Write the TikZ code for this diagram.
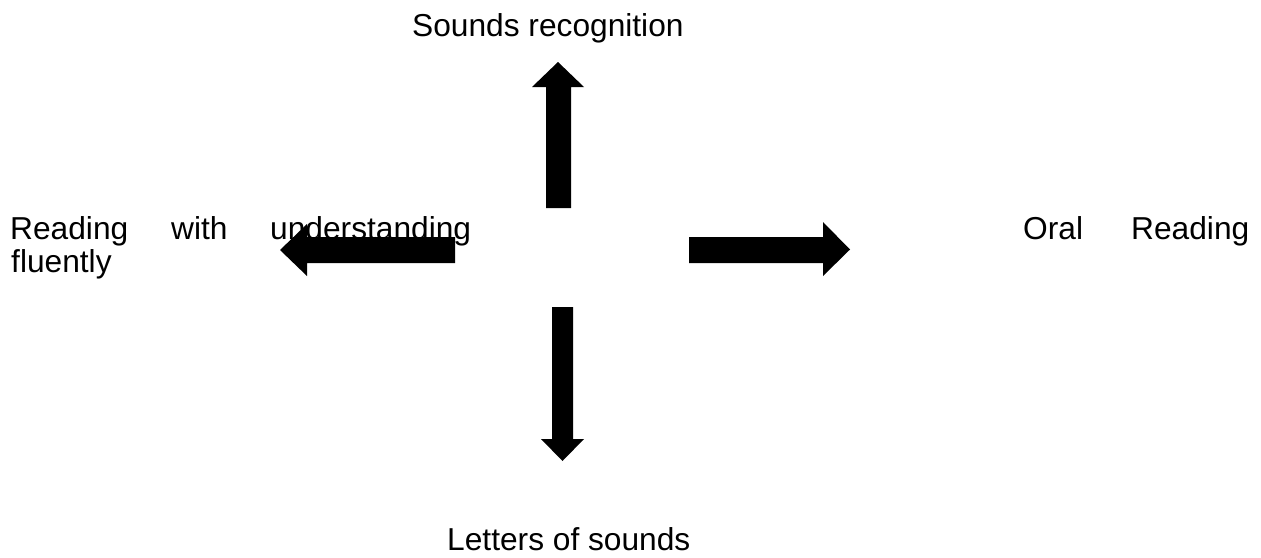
\documentclass[tikz,border=0pt]{standalone}
\usepackage{fontspec}
\setmainfont{Liberation Sans}
\begin{document}
\begin{tikzpicture}[x=1pt,y=-1pt,
  lbl/.style={anchor=base west,inner sep=0pt,font=\fontsize{31.7}{37}\selectfont},
  blockarrow/.style={fill=black,draw=none}]
\useasboundingbox (0,0) rectangle (1261,557);
% texts
\node[lbl] (top) at (412,36) {Sounds recognition};
\node[lbl] (bottom) at (447,550) {Letters of sounds};
\node[lbl] (l1) at (10,239) {Reading};
\node[lbl] (l2) at (171,239) {with};
\node[lbl] (l3) at (270,239) {understanding};
\node[lbl] (l4) at (11,272) {fluently};
\node[lbl] (r1) at (1023,239) {Oral};
\node[lbl] (r2) at (1131,239) {Reading};
% block arrows
\fill[blockarrow] (546,208) -- (546,87) -- (532,87) -- (558,62) -- (584,87) -- (571,87) -- (571,208) -- cycle;
\fill[blockarrow] (689,237) -- (823,237) -- (823,222) -- (850,249.5) -- (823,276) -- (823,263) -- (689,263) -- cycle;
\fill[blockarrow] (552,307) -- (573,307) -- (573,439) -- (584,439) -- (562.5,461) -- (541,439) -- (552,439) -- cycle;
\fill[blockarrow] (455,237) -- (307,237) -- (307,224) -- (280,250) -- (307,276) -- (307,263) -- (455,263) -- cycle;
\end{tikzpicture}
\end{document}
